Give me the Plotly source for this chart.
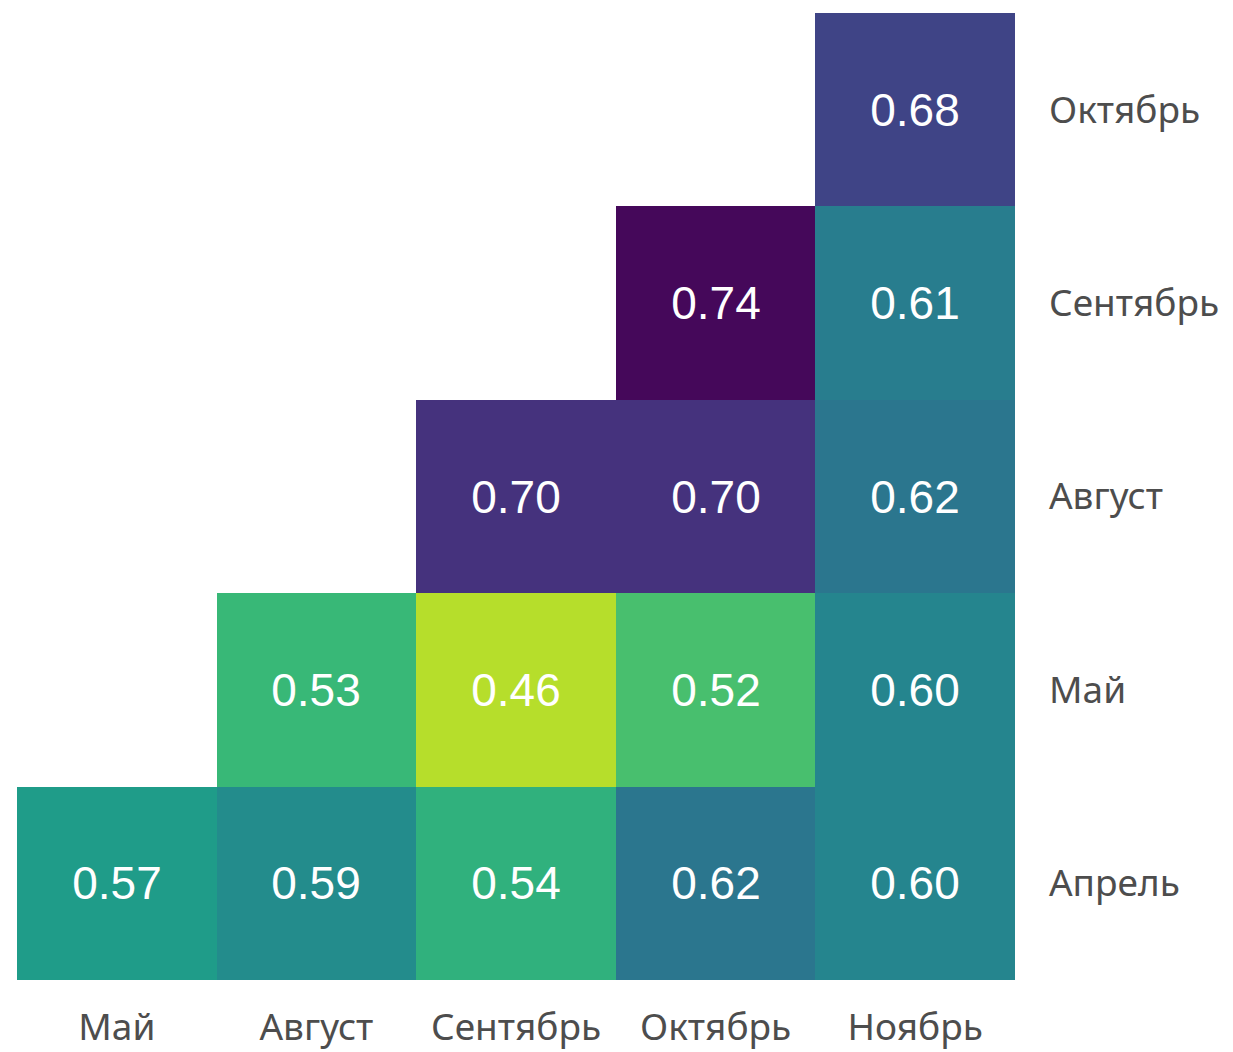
import plotly.graph_objects as go

x_labels = ["Май", "Август", "Сентябрь", "Октябрь", "Ноябрь"]
y_labels = ["Апрель", "Май", "Август", "Сентябрь", "Октябрь"]

row_april = [0.57, 0.59, 0.54, 0.62, 0.60]
row_may = [None, 0.53, 0.46, 0.52, 0.60]
row_august = [None, None, 0.70, 0.70, 0.62]
row_september = [None, None, None, 0.74, 0.61]
row_october = [None, None, None, None, 0.68]

z = [row_april, row_may, row_august, row_september, row_october]

fig = go.Figure(
    go.Heatmap(
        z=z,
        x=list(range(len(x_labels))),
        y=list(range(len(y_labels))),
        colorscale="Viridis",
        reversescale=True,
        zmin=0.425,
        zmax=0.746,
        showscale=False,
        texttemplate="%{z:.2f}",
        textfont=dict(family="Liberation Sans, Arial, sans-serif", size=46, color="white"),
        hoverongaps=False,
    )
)

label_font = dict(family="Noto Sans, Open Sans, sans-serif", size=37, color="#4d4d4d")

fig.update_layout(
    width=1233,
    height=1052,
    margin=dict(l=9, r=226, t=5, b=80),
    plot_bgcolor="white",
    paper_bgcolor="white",
    xaxis=dict(
        tickmode="array",
        tickvals=list(range(len(x_labels))),
        ticktext=x_labels,
        range=[-0.5, 4.5],
        showgrid=False,
        zeroline=False,
        showline=False,
        ticks="",
        tickfont=label_font,
        ticklabelstandoff=22,
    ),
    yaxis=dict(
        tickmode="array",
        tickvals=list(range(len(y_labels))),
        ticktext=y_labels,
        range=[-0.5, 4.5],
        side="right",
        showgrid=False,
        zeroline=False,
        showline=False,
        ticks="",
        tickfont=label_font,
        ticklabelstandoff=33,
    ),
)

fig.write_html("out.html")
